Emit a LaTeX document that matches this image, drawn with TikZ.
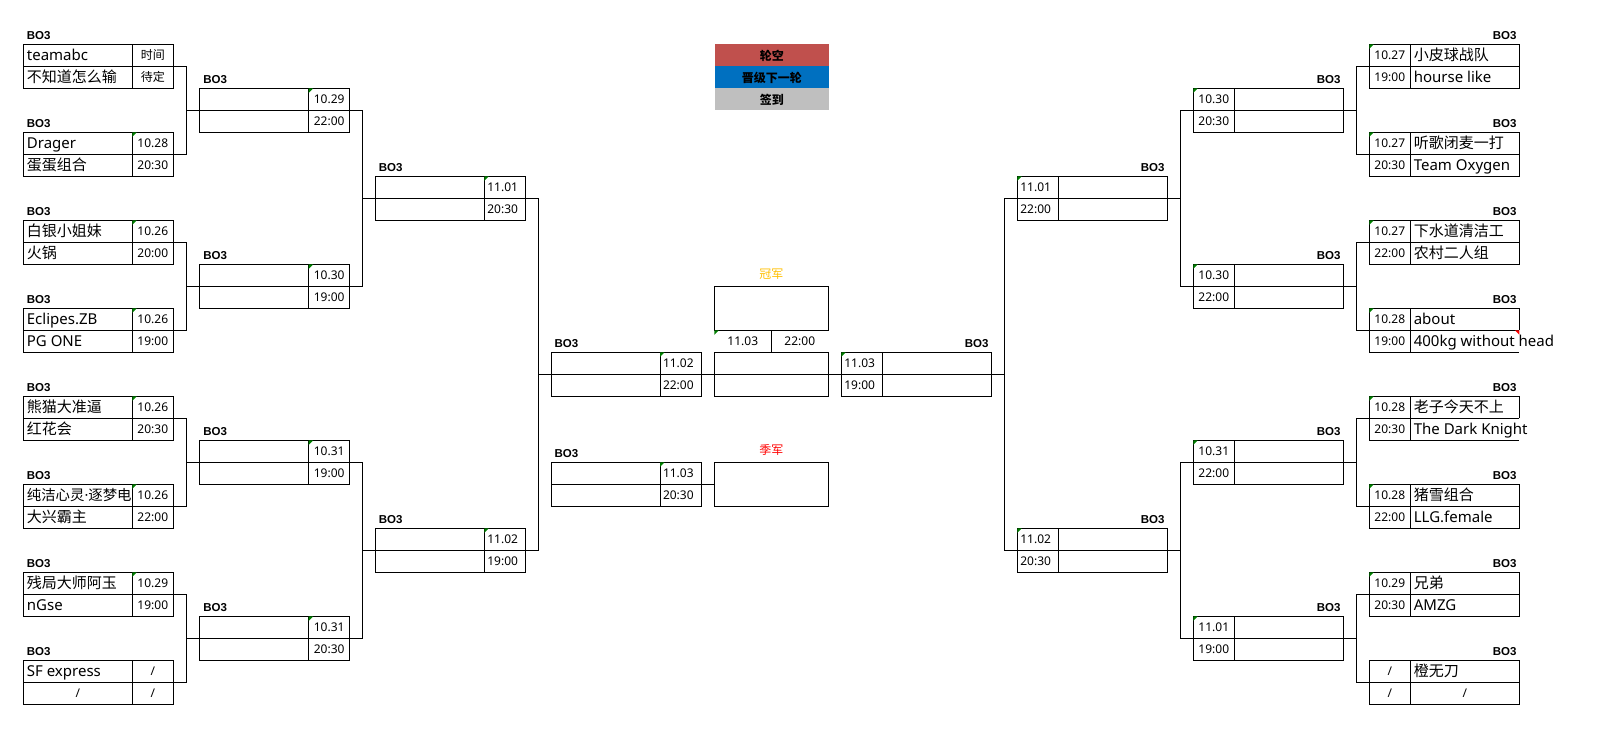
\documentclass[tikz,border=0pt]{standalone}
\usepackage{fontspec}
\setmainfont{Noto Sans}
\newfontfamily\cjk{Noto Sans CJK SC}
\newfontfamily\bofont{Liberation Sans}
\definecolor{legred}{HTML}{C0504D}
\definecolor{legblue}{HTML}{0070C0}
\definecolor{leggray}{HTML}{BFBFBF}
\definecolor{champgold}{HTML}{FFC000}
\definecolor{flaggreen}{HTML}{008000}
\newif\ifopenbox
\tikzset{
  ln/.style={line width=1pt, black},
  mbox/.style={anchor=north west, minimum width=150pt, minimum height=44pt, inner sep=0pt, outer sep=0pt},
  cbox/.style={anchor=north west, minimum width=114pt, minimum height=44pt, inner sep=0pt, outer sep=0pt},
  team/.style={anchor=base west, inner sep=0pt, font=\fontsize{15}{15}\selectfont},
  dtc/.style={anchor=base, inner sep=0pt, xshift=20.5pt, font=\fontsize{12}{12}\selectfont},
  dtl/.style={anchor=base west, inner sep=0pt, xshift=2.8pt, font=\fontsize{12}{12}\selectfont},
  slash/.style={anchor=base, inner sep=0pt, font=\fontsize{12}{12}\selectfont},
  bo/.style={inner sep=0pt, font=\bofont\bfseries\fontsize{11.5}{11.5}\selectfont},
  leg/.style={anchor=north west, minimum width=114.5pt, minimum height=22pt, inner sep=0pt, font=\cjk\bfseries\fontsize{12}{12}\selectfont},
  lab/.style={anchor=base, inner sep=0pt, font=\cjk\fontsize{12}{12}\selectfont},
}
\newcommand\mtchframe[1]{%
  \ifopenbox
    \draw[ln] (#1.east) -- (#1.north east) -- (#1.north west) -- (#1.south west) -- (#1.south east);
  \else
    \draw[ln] (#1.north west) rectangle (#1.south east);
  \fi
  \draw[ln] (#1.west) -- (#1.east);}
% left-type match box: team cell then date cell
\newcommand\mtchL[8]{%
  \node[mbox] (#1) at (#2,#3) {};
  \mtchframe{#1}
  \draw[ln] ([xshift=109pt]#1.north west) -- ([xshift=109pt]#1.south west);
  \node[team] (#1-a) at ([xshift=3.4pt,yshift=-16.5pt]#1.north west) {#4};
  \node[team] (#1-b) at ([xshift=3.4pt,yshift=-38.5pt]#1.north west) {#5};
  \node[#8] (#1-c) at ([xshift=109pt,yshift=-15.3pt]#1.north west) {#6};
  \node[#8] (#1-d) at ([xshift=109pt,yshift=-37.3pt]#1.north west) {#7};
  \node[bo, anchor=base west] (#1-bo) at ([xshift=3.4pt,yshift=5pt]#1.north west) {BO3};}
% right-type match box: date cell then team cell
\newcommand\mtchR[8]{%
  \node[mbox] (#1) at (#2,#3) {};
  \mtchframe{#1}
  \draw[ln] ([xshift=41pt]#1.north west) -- ([xshift=41pt]#1.south west);
  \node[team] (#1-a) at ([xshift=44.3pt,yshift=-16.5pt]#1.north west) {#4};
  \node[team] (#1-b) at ([xshift=44.3pt,yshift=-38.5pt]#1.north west) {#5};
  \node[#8] (#1-c) at ([yshift=-15.3pt]#1.north west) {#6};
  \node[#8] (#1-d) at ([yshift=-37.3pt]#1.north west) {#7};
  \node[bo, anchor=base east] (#1-bo) at ([xshift=-2.6pt,yshift=5pt]#1.north east) {BO3};}
\newcommand\gflagL[1]{\fill[flaggreen] ([xshift=109pt]#1.north west) -- ++(4.5,0) -- ++(-4.5,4.5) -- cycle;}
\newcommand\gflagR[1]{\fill[flaggreen] (#1.north west) -- ++(4.5,0) -- ++(-4.5,4.5) -- cycle;}
\begin{document}
\begin{tikzpicture}[x=1pt,y=-1pt]
\useasboundingbox (0,0) rectangle (1603,749);
\fill[white] (0,0) rectangle (1603,749);

% legend
\node[leg, fill=legred] (leg1) at (714.3,44.3) {轮空};
\node[leg, fill=legblue] (leg2) at (714.3,66.3) {晋级下一轮};
\node[leg, fill=leggray] (leg3) at (714.3,88.3) {签到};

% left round 1
\mtchL{L1a}{23.3}{44.3}{teamabc}{\cjk 不知道怎么输}{\cjk 时间}{\cjk 待定}{dtc}
\mtchL{L1b}{23.3}{132.3}{Drager}{\cjk 蛋蛋组合}{10.28}{20:30}{dtc}
\mtchL{L1c}{23.3}{220.3}{\cjk 白银小姐妹}{\cjk 火锅}{10.26}{20:00}{dtc}
\mtchL{L1d}{23.3}{308.3}{Eclipes.ZB}{PG ONE}{10.26}{19:00}{dtc}
\mtchL{L1e}{23.3}{396.3}{\cjk 熊猫大准逼}{\cjk 红花会}{10.26}{20:30}{dtc}
\mtchL{L1f}{23.3}{484.3}{\fontsize{14.4}{14.4}\selectfont\cjk 纯洁心灵{\rmfamily ·}逐梦电}{\cjk 大兴霸主}{10.26}{22:00}{dtc}
\mtchL{L1g}{23.3}{572.3}{\cjk 残局大师阿玉}{nGse}{10.29}{19:00}{dtc}
\mtchL{L1h}{23.3}{660.3}{SF express}{}{/}{/}{dtc}
\node[slash] (L1h-s) at ([xshift=54.5pt,yshift=-37.3pt]L1h.north west) {/};
\foreach \n in {L1b,L1c,L1d,L1e,L1f,L1g} {\gflagL{\n}}

% left round 2
\mtchL{L2a}{199.7}{88.3}{}{}{10.29}{22:00}{dtc}
\mtchL{L2b}{199.7}{264.3}{}{}{10.30}{19:00}{dtc}
\mtchL{L2c}{199.7}{440.3}{}{}{10.31}{19:00}{dtc}
\mtchL{L2d}{199.7}{616.3}{}{}{10.31}{20:30}{dtc}
% left round 3
\mtchL{L3a}{375.3}{176.3}{}{}{11.01}{20:30}{dtl}
\mtchL{L3b}{375.3}{528.3}{}{}{11.02}{19:00}{dtl}
% left semi-final and third place match
\mtchL{LSF}{551}{352.3}{}{}{11.02}{22:00}{dtl}
\mtchL{L3P}{551}{462.3}{}{}{11.03}{20:30}{dtl}
\foreach \n in {L2a,L2b,L2c,L2d,L3a,L3b,LSF,L3P} {\gflagL{\n}}

% champion and third place
\node[lab, text=champgold] (gjlab) at (771.3,278.6) {冠军};
\node[cbox, draw, ln] (CH) at (714.3,286.3) {};
\node[cbox] (CHD) at (714.3,352.3) {};
\draw[ln] (CHD.north west) rectangle (CHD.south east);
\draw[ln] (CHD.west) -- (CHD.east);
\draw[ln] (CH.south) -- (CHD.north);
\node[dtc] (chd1) at (722.3,345.6) {11.03};
\node[dtc] (chd2) at (779.3,345.6) {22:00};
\fill[flaggreen] (CH.south west) -- ++(4.5,0) -- ++(-4.5,4.5) -- cycle;
\node[lab, text=red] (jjlab) at (771.3,454.6) {季军};
\node[cbox, draw, ln] (TP) at (714.3,462.3) {};

% right semi-final
\mtchR{RSF}{841.3}{352.3}{}{}{11.03}{19:00}{dtl}
% right round 3
\mtchR{R3a}{1017.3}{176.3}{}{}{11.01}{22:00}{dtl}
\mtchR{R3b}{1017.3}{528.3}{}{}{11.02}{20:30}{dtl}
% right round 2
\mtchR{R2a}{1193.3}{88.3}{}{}{10.30}{20:30}{dtc}
\mtchR{R2b}{1193.3}{264.3}{}{}{10.30}{22:00}{dtc}
\mtchR{R2c}{1193.3}{440.3}{}{}{10.31}{22:00}{dtc}
\mtchR{R2d}{1193.3}{616.3}{}{}{11.01}{19:00}{dtc}
% right round 1
\mtchR{R1a}{1369.3}{44.3}{\cjk 小皮球战队}{hourse like}{10.27}{19:00}{dtc}
\mtchR{R1b}{1369.3}{132.3}{\cjk 听歌闭麦一打}{Team Oxygen}{10.27}{20:30}{dtc}
\mtchR{R1c}{1369.3}{220.3}{\cjk 下水道清洁工}{\cjk 农村二人组}{10.27}{22:00}{dtc}
\openboxtrue
\mtchR{R1d}{1369.3}{308.3}{about}{400kg without head}{10.28}{19:00}{dtc}
\mtchR{R1e}{1369.3}{396.3}{\cjk 老子今天不上}{The Dark Knight}{10.28}{20:30}{dtc}
\openboxfalse
\mtchR{R1f}{1369.3}{484.3}{\cjk 猪雪组合}{LLG.female}{10.28}{22:00}{dtc}
\mtchR{R1g}{1369.3}{572.3}{\cjk 兄弟}{AMZG}{10.29}{20:30}{dtc}
\mtchR{R1h}{1369.3}{660.3}{\cjk 橙无刀}{}{/}{/}{dtc}
\node[slash] (R1h-s) at ([xshift=95.5pt,yshift=-37.3pt]R1h.north west) {/};
\foreach \n in {RSF,R3a,R3b,R2a,R2b,R2c,R2d,R1a,R1b,R1c,R1d,R1e,R1f,R1g} {\gflagR{\n}}
\fill[red] (R1d.east) -- ++(-4.5,0) -- ++(4.5,4.5) -- cycle;

% connectors
\foreach \a/\b in {L1a/L2a,L1b/L2a,L1c/L2b,L1d/L2b,L1e/L2c,L1f/L2c,L1g/L2d,L1h/L2d,
                   L2a/L3a,L2b/L3a,L2c/L3b,L2d/L3b,L3a/LSF,L3b/LSF}
  {\draw[ln] (\a.east) -- ++(13,0) |- (\b.west);}
\foreach \a/\b in {R1a/R2a,R1b/R2a,R1c/R2b,R1d/R2b,R1e/R2c,R1f/R2c,R1g/R2d,R1h/R2d,
                   R2a/R3a,R2b/R3a,R2c/R3b,R2d/R3b,R3a/RSF,R3b/RSF}
  {\draw[ln] (\a.west) -- ++(-13,0) |- (\b.east);}
\draw[ln] (LSF.east) -- (CHD.west);
\draw[ln] (CHD.east) -- (RSF.west);
\draw[ln] (L3P.east) -- (TP.west);
\end{tikzpicture}
\end{document}
